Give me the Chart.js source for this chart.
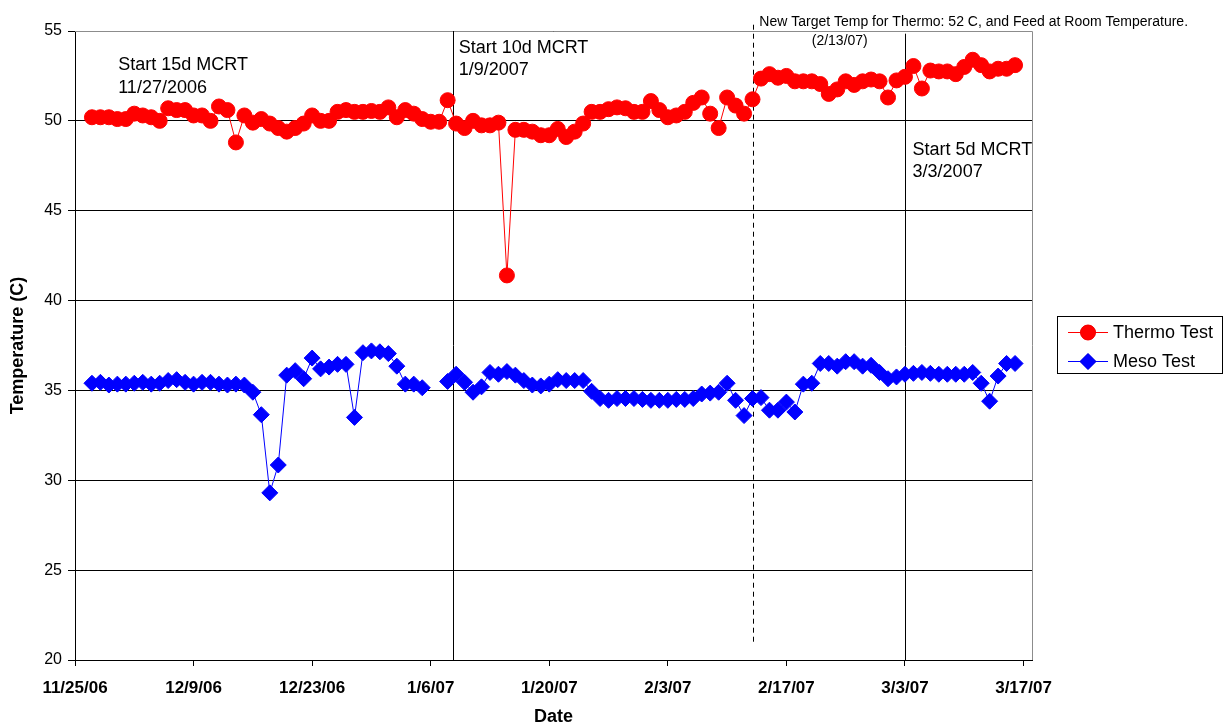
<!DOCTYPE html>
<html>
<head>
<meta charset="utf-8">
<title>Thermo / Meso temperature</title>
<script src="https://cdn.jsdelivr.net/npm/chart.js@4.4.1/dist/chart.umd.min.js"></script>
<style>
  html, body { margin: 0; padding: 0; background: #fff; }
  #tempChart { display: block; }
</style>
</head>
<body>
<canvas id="tempChart" width="1225" height="726"></canvas>
<script>
// DATA
// daily readings, first one on 11/27/2006 (day 2 counted from 11/25/2006)
var firstDay = 2;

var thermoTemps = [
  50.2, 50.2, 50.2, 50.1, 50.1, 50.4, 50.3, 50.2, 50.0, 50.7,
  50.6, 50.6, 50.3, 50.3, 50.0, 50.8, 50.6, 48.8, 50.3, 49.9,
  50.1, 49.85, 49.6, 49.4, 49.6, 49.85, 50.3, 50.0, 50.0, 50.5,
  50.6, 50.5, 50.5, 50.55, 50.5, 50.75, 50.2, 50.6, 50.4, 50.1,
  49.95, 49.95, 51.15, 49.85, 49.6, 50.0, 49.75, 49.75, 49.9, 41.4,
  49.5, 49.5, 49.4, 49.2, 49.2, 49.55, 49.1, 49.4, 49.85, 50.5,
  50.5, 50.65, 50.75, 50.7, 50.5, 50.5, 51.1, 50.6, 50.2, 50.3,
  50.5, 51.0, 51.3, 50.4, 49.6, 51.3, 50.85, 50.4, 51.2, 52.35,
  52.6, 52.4, 52.5, 52.2, 52.2, 52.2, 52.05, 51.5, 51.75, 52.2,
  52.0, 52.2, 52.3, 52.2, 51.3, 52.25, 52.45, 53.05, 51.8, 52.8,
  52.75, 52.75, 52.6, 53.0, 53.4, 53.1, 52.75, 52.9, 52.9, 53.1
];

var mesoTemps = [
  35.4, 35.45, 35.3, 35.35, 35.35, 35.4, 35.45, 35.35, 35.4, 35.55,
  35.6, 35.45, 35.35, 35.45, 35.45, 35.35, 35.3, 35.35, 35.3, 34.9,
  33.65, 29.3, 30.85, 35.85, 36.1, 35.65, 36.8, 36.2, 36.3, 36.45,
  36.45, 33.5, 37.1, 37.2, 37.15, 37.05, 36.35, 35.35, 35.35, 35.15,
  null, null, 35.5, 35.9, 35.45, 34.9, 35.2, 36.0, 35.9, 36.05,
  35.85, 35.55, 35.3, 35.25, 35.35, 35.6, 35.55, 35.55, 35.55, 34.95,
  34.55, 34.45, 34.55, 34.55, 34.55, 34.5, 34.45, 34.45, 34.45, 34.5,
  34.5, 34.55, 34.8, 34.85, 34.9, 35.4, 34.45, 33.6, 34.55, 34.6,
  33.9, 33.9, 34.35, 33.8, 35.35, 35.4, 36.5, 36.5, 36.35, 36.6,
  36.6, 36.35, 36.4, 36.0, 35.65, 35.75, 35.9, 35.95, 36.0, 35.95,
  35.9, 35.9, 35.9, 35.9, 36.0, 35.4, 34.4, 35.8, 36.5, 36.5
];

// x axis: one label every 14 days from 11/25/06
var tickStep = 14;
var xTickLabels = ['11/25/06', '12/9/06', '12/23/06', '1/6/07', '1/20/07', '2/3/07', '2/17/07', '3/3/07', '3/17/07'];
var yTicks = [20, 25, 30, 35, 40, 45, 50, 55];

// vertical marker lines (day, from temp, to temp, dashed)
var markerLines = [
  { day: 44.6, from: 55, to: 20, dashed: false },
  { day: 98, from: 54.85, to: 20, dashed: false },
  { day: 80.1, from: 55.35, to: 20.8, dashed: true }
];

// notes written on the plot (left/centre anchor in day, baseline in temp)
var notes = [
  { text: 'Start 15d MCRT', day: 5.1, temp: 52.83, size: 18, align: 'left' },
  { text: '11/27/2006', day: 5.1, temp: 51.55, size: 18, align: 'left' },
  { text: 'Start 10d MCRT', day: 45.3, temp: 53.76, size: 18, align: 'left' },
  { text: '1/9/2007', day: 45.3, temp: 52.55, size: 18, align: 'left' },
  { text: 'Start 5d MCRT', day: 98.9, temp: 48.09, size: 18, align: 'left' },
  { text: '3/3/2007', day: 98.9, temp: 46.86, size: 18, align: 'left' },
  { text: 'New Target Temp for Thermo: 52 C, and Feed at Room Temperature.', day: 80.8, temp: 55.28, size: 14, align: 'left' },
  { text: '(2/13/07)', day: 90.3, temp: 54.22, size: 14, align: 'center' }
];

var seriesNames = ['Thermo Test', 'Meso Test'];
var seriesColors = ['#FF0000', '#0000FF'];

function toPoints(values) {
  return values.map(function (v, i) {
    return { x: firstDay + i, y: v };
  });
}

var FONT = "'Liberation Sans', Arial, sans-serif";
Chart.defaults.font.family = FONT;
Chart.defaults.color = '#000';

// PLUGIN: frame, marker lines, notes and legend
var notesPlugin = {
  id: 'notes',
  beforeDatasetsDraw: function (chart) {
    var ctx = chart.ctx, xs = chart.scales.x, ys = chart.scales.y, a = chart.chartArea;
    ctx.save();
    // grey frame on top and right side
    ctx.strokeStyle = '#8c8c8c';
    ctx.lineWidth = 1;
    ctx.beginPath();
    ctx.moveTo(a.left, Math.round(a.top) + 0.5);
    ctx.lineTo(Math.round(a.right) + 0.5, Math.round(a.top) + 0.5);
    ctx.lineTo(Math.round(a.right) + 0.5, a.bottom);
    ctx.stroke();

    ctx.strokeStyle = '#000';
    markerLines.forEach(function (m) {
      var px = Math.round(xs.getPixelForValue(m.day)) + 0.5;
      ctx.setLineDash(m.dashed ? [5, 4] : []);
      ctx.beginPath();
      ctx.moveTo(px, ys.getPixelForValue(m.from));
      ctx.lineTo(px, ys.getPixelForValue(m.to));
      ctx.stroke();
    });
    ctx.restore();
  },
  afterDraw: function (chart) {
    var ctx = chart.ctx, xs = chart.scales.x, ys = chart.scales.y;
    ctx.save();
    ctx.fillStyle = '#000';
    ctx.textBaseline = 'alphabetic';
    notes.forEach(function (n) {
      ctx.font = n.size + 'px ' + FONT;
      ctx.textAlign = n.align;
      ctx.fillText(n.text, xs.getPixelForValue(n.day), ys.getPixelForValue(n.temp));
    });

    // legend box
    ctx.strokeStyle = '#000';
    ctx.lineWidth = 1;
    ctx.strokeRect(1057.5, 316.5, 165, 57);
    ctx.font = '18px ' + FONT;
    ctx.textAlign = 'left';
    ctx.textBaseline = 'middle';
    chart.data.datasets.forEach(function (ds, i) {
      var ly = 332 + i * 29;
      ctx.strokeStyle = ds.borderColor;
      ctx.beginPath();
      ctx.moveTo(1068, ly + 0.5);
      ctx.lineTo(1108, ly + 0.5);
      ctx.stroke();
      Chart.helpers.drawPoint(ctx, {
        pointStyle: ds.pointStyle,
        radius: ds.pointRadius,
        borderWidth: 1,
        rotation: 0
      }, 1088, ly + 0.5);
      ctx.fillStyle = ds.backgroundColor;
      ctx.fill();
      ctx.fillStyle = '#000';
      ctx.fillText(ds.label, 1113, ly + 1);
    });
    ctx.restore();
  }
};

var tempCtx = document.getElementById('tempChart').getContext('2d');

var tempChart = new Chart(tempCtx, {
  type: 'line',
  data: {
    datasets: [{
      label: seriesNames[0],
      data: toPoints(thermoTemps),
      borderColor: seriesColors[0],
      backgroundColor: seriesColors[0],
      borderWidth: 1,
      pointStyle: 'circle',
      pointRadius: 7.5,
      pointBorderWidth: 1,
      tension: 0
    }, {
      label: seriesNames[1],
      data: toPoints(mesoTemps),
      borderColor: seriesColors[1],
      backgroundColor: seriesColors[1],
      borderWidth: 1,
      pointStyle: 'rectRot',
      pointRadius: 8,
      pointBorderWidth: 1,
      tension: 0,
      spanGaps: false
    }]
  },
  options: {
    responsive: false,
    animation: false,
    devicePixelRatio: 1,
    layout: { padding: { left: 0, right: 193, top: 31, bottom: 0 } },
    plugins: {
      legend: { display: false },
      tooltip: { enabled: false }
    },
    scales: {
      x: {
        type: 'linear',
        min: 0,
        max: 113,
        afterBuildTicks: function (scale) {
          scale.ticks = xTickLabels.map(function (l, i) {
            return { value: i * tickStep };
          });
        },
        afterFit: function (scale) { scale.height = 66; },
        ticks: {
          autoSkip: false,
          maxRotation: 0,
          padding: 12,
          font: { size: 17, weight: 'bold' },
          callback: function (value) {
            return xTickLabels[Math.round(value / tickStep)];
          }
        },
        grid: {
          drawOnChartArea: false,
          drawTicks: true,
          tickLength: 6,
          color: '#000'
        },
        border: { display: true, color: '#000', width: 1 },
        title: {
          display: true,
          text: 'Date',
          font: { size: 18, weight: 'bold', lineHeight: 1 },
          padding: { top: 0, bottom: 0 }
        }
      },
      y: {
        min: 20,
        max: 55,
        afterBuildTicks: function (scale) {
          scale.ticks = yTicks.map(function (v) { return { value: v }; });
        },
        afterFit: function (scale) { scale.width = 75; },
        ticks: {
          padding: 6,
          font: { size: 16 }
        },
        grid: {
          color: '#000',
          tickLength: 7
        },
        border: { display: true, color: '#000', width: 1 },
        title: {
          display: true,
          text: 'Temperature (C)',
          font: { size: 18, weight: 'bold' },
          padding: { top: 7, bottom: 0 }
        }
      }
    }
  },
  plugins: [notesPlugin]
});
</script>
</body>
</html>
